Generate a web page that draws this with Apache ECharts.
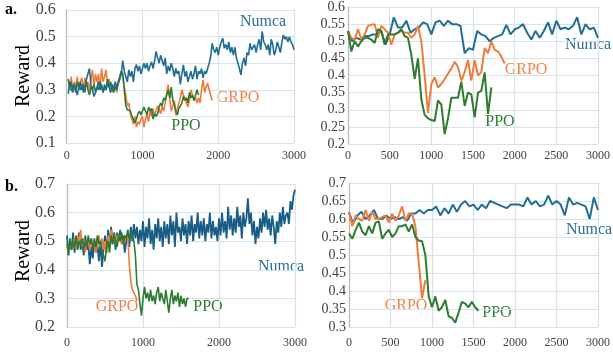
<!DOCTYPE html>
<html>
<head>
<meta charset="utf-8">
<script src="https://cdn.jsdelivr.net/npm/echarts@6/dist/echarts.min.js"></script>
<style>
  html, body { margin: 0; padding: 0; background: #fff; }
  #chart { width: 613px; height: 353px; }
</style>
</head>
<body>
<div id="chart"></div>
<script>
// panel a, left: dense curves, first point at x=20, step 20
const aLeftNumca = [
  .285, .33, .30, .29, .32, .30, .28, .31, .33, .30,
  .32, .29, .34, .36, .38, .32, .30, .275, .29, .31,
  .33, .30, .32, .29, .31, .30, .33, .31, .29, .32,
  .30, .33, .31, .31, .34, .36, .41, .37, .35, .33,
  .375, .35, .37, .33, .38, .395, .37, .39, .36, .38,
  .40, .38, .40, .37, .39, .405, .38, .41, .444, .42,
  .40, .43, .41, .39, .42, .36, .39, .37, .40, .38,
  .35, .38, .36, .37, .32, .36, .394, .35, .37, .33,
  .35, .37, .34, .36, .39, .34, .37, .36, .38, .345,
  .37, .36, .38, .40, .425, .475, .45, .44, .46, .43,
  .46, .48, .494, .456, .47, .45, .48, .44, .46, .43,
  .46, .42, .40, .38, .356, .40, .42, .39, .44, .43,
  .475, .45, .46, .47, .44, .47, .49, .45, .52, .48,
  .47, .45, .47, .43, .49, .47, .43, .45, .48, .46,
  .44, .48, .506, .49, .50, .48, .50, .48, .47, .45,
];
const aLeftGrpo = [
  .34, .30, .35, .29, .33, .31, .35, .30, .33, .345,
  .30, .345, .31, .33, .30, .34, .375, .31, .36, .33,
  .36, .30, .38, .33, .35, .375, .31, .34, .29, .32,
  .30, .33, .29, .32, .34, .37, .35, .31, .28, .24,
  .25, .21, .19, .17, .20, .16, .18, .17, .19, .20,
  .16, .19, .21, .18, .22, .20, .23, .205, .22, .24,
  .235, .21, .24, .22, .25, .29, .32, .27, .22, .24,
  .26, .205, .23, .25, .27, .30, .28, .27, .25, .235,
  .26, .30, .28, .26, .27, .25, .27, .25, .30, .337,
  .29, .31, .325, .30, .28, .26,
];
const aLeftPpo = [
  .34, .31, .33, .30, .32, .29, .33, .31, .30, .32,
  .29, .31, .33, .30, .28, .31, .30, .32, .29, .31,
  .30, .33, .31, .29, .32, .30, .34, .31, .33, .30,
  .29, .31, .30, .33, .35, .37, .36, .30, .24, .225,
  .23, .22, .20, .19, .175, .19, .21, .22, .205, .21,
  .235, .22, .205, .235, .22, .23, .19, .21, .20, .21,
  .235, .25, .24, .27, .26, .28, .30, .27, .31, .26,
  .245, .22, .205, .23, .24, .25, .275, .26, .27, .25,
  .29, .27, .28, .26, .28, .30, .28,
];

// panel a, right: Numca step 50, GRPO / PPO step 40, all from x=0
const aRightNumca = [
  .53, .50, .51, .505, .515, .515, .52, .52, .53, .49,
  .52, .57, .54, .54, .56, .525, .535, .54, .555, .55,
  .52, .555, .56, .545, .56, .55, .55, .545, .465, .48,
  .475, .53, .52, .515, .50, .51, .515, .52, .548, .52,
  .535, .54, .55, .525, .505, .53, .51, .53, .555, .52,
  .56, .535, .54, .535, .545, .57, .52, .55, .535, .54,
  .51,
];
const aRightGrpo = [
  .53, .51, .505, .535, .505, .52, .545, .548, .55, .51,
  .545, .535, .525, .49, .52, .525, .53, .525, .525, .51,
  .52, .545, .50, .40, .29, .375, .395, .365, .375, .39,
  .405, .42, .44, .425, .385, .41, .445, .385, .445, .40,
  .41, .48, .465, .50, .475, .47, .455, .435,
];
const aRightPpo = [
  .53, .47, .50, .485, .50, .51, .51, .505, .495, .535,
  .53, .49, .52, .52, .52, .525, .535, .515, .51, .46,
  .39, .45, .33, .285, .275, .27, .267, .327, .315, .229,
  .275, .335, .335, .335, .382, .311, .35, .345, .278, .35,
  .355, .409, .288, .365,
];

// panel b, left: step 20 from x=0
const bLeftNumca = [
  .52, .45, .50, .47, .53, .46, .51, .48, .53, .47,
  .50, .45, .52, .47, .49, .42, .48, .44, .51, .46,
  .49, .43, .50, .41, .47, .52, .46, .54, .48, .55,
  .49, .52, .47, .53, .50, .54, .49, .52, .46, .50,
  .53, .48, .55, .50, .56, .51, .55, .49, .54, .50,
  .57, .48, .55, .51, .58, .49, .54, .47, .56, .51,
  .58, .50, .55, .48, .57, .51, .56, .49, .59, .52,
  .57, .48, .60, .53, .55, .50, .58, .52, .56, .49,
  .57, .52, .59, .50, .56, .53, .60, .51, .57, .52,
  .58, .50, .56, .53, .60, .51, .57, .52, .55, .50,
  .58, .52, .60, .53, .57, .51, .62, .54, .59, .52,
  .58, .53, .62, .55, .59, .51, .60, .55, .58, .65,
  .56, .60, .52, .57, .49, .55, .51, .58, .53, .60,
  .55, .61, .54, .58, .52, .59, .55, .49, .57, .53,
  .60, .55, .62, .56, .59, .60, .56, .64, .61, .66,
  .68,
];
const bLeftGrpo = [
  .48, .46, .50, .47, .49, .51, .47, .52, .50, .54,
  .48, .51, .46, .49, .50, .47, .51, .48, .50, .46,
  .49, .52, .48, .51, .47, .50, .46, .52, .49, .54,
  .51, .53, .49, .52, .50, .52, .49, .51, .50, .52,
  .51, .42, .36, .33, .32, .31, .29,
];
const bLeftPpo = [
  .49, .46, .51, .47, .50, .48, .52, .47, .50, .49,
  .51, .47, .50, .48, .52, .49, .51, .47, .50, .48,
  .52, .49, .50, .47, .45, .43, .48, .50, .46, .52,
  .49, .53, .50, .48, .52, .50, .53, .49, .52, .51,
  .54, .51, .53, .52, .50, .45, .35, .33, .28, .24,
  .30, .34, .30, .32, .29, .33, .29, .31, .28, .32,
  .34, .29, .32, .30, .28, .33, .29, .25, .30, .33,
  .28, .31, .29, .32, .27, .31, .28, .30, .27, .30,
  .30,
];

// panel b, right: Numca step 50, GRPO / PPO step 40
const bRightNumca = [
  .618, .587, .61, .62, .60, .61, .625, .60, .60, .61,
  .60, .605, .60, .605, .595, .615, .615, .625, .615, .625,
  .625, .635, .61, .63, .615, .64, .62, .64, .65, .635,
  .64, .625, .64, .63, .65, .645, .64, .635, .63, .64,
  .64, .64, .635, .66, .64, .65, .635, .64, .665, .64,
  .65, .64, .61, .66, .64, .645, .64, .635, .60, .66,
  .625,
];
const bRightGrpo = [
  .62, .58, .61, .60, .595, .625, .595, .62, .60, .60,
  .605, .61, .59, .615, .595, .61, .635, .595, .615, .615,
  .58, .48, .38, .43,
];
const bRightPpo = [
  .56, .545, .57, .59, .565, .555, .58, .56, .59, .593,
  .545, .56, .57, .55, .56, .58, .58, .585, .565, .585,
  .55, .54, .538, .50, .385, .355, .385, .345, .355, .375,
  .33, .325, .312, .34, .37, .365, .355, .37, .355, .345,
];

const xTicksLeft = 1000;
const xTicksRight = 500;

const serif = "'Liberation Serif', 'Times New Roman', serif";
const blue = '#226d93';
const orange = '#f07c3b';
const green = '#2e7b30';
const gridColor = '#d7e3eb';

const pairs = (start, step, values) => values.map((v, i) => [start + i * step, v]);

const makeX = (gridIndex, interval, margin) => ({
  type: 'value',
  gridIndex,
  min: 0,
  max: 3000,
  interval,
  axisLine: { show: false },
  axisTick: { show: false },
  splitLine: { show: true, lineStyle: { color: gridColor, width: 1.2 } },
  axisLabel: {
    fontFamily: serif,
    fontSize: 12,
    color: '#404040',
    margin,
    formatter: (v) => String(v),
  },
});

const makeY = (gridIndex, min, max, interval, fontSize, margin) => ({
  type: 'value',
  gridIndex,
  min,
  max,
  interval,
  axisLine: { show: true, lineStyle: { color: '#bcbcbc', width: 1.2 } },
  axisTick: { show: false },
  splitLine: { show: true, lineStyle: { color: gridColor, width: 1.2 } },
  axisLabel: { fontFamily: serif, fontSize, color: '#404040', margin },
});

const makeLine = (idx, data, color, width) => ({
  type: 'line',
  xAxisIndex: idx,
  yAxisIndex: idx,
  data,
  showSymbol: false,
  symbol: 'none',
  lineStyle: { color, width },
  itemStyle: { color },
});

const label = (text, x, y, color) => ({
  type: 'text',
  x,
  y,
  style: {
    text,
    fill: color,
    font: `16px ${serif}`,
    align: 'center',
    verticalAlign: 'middle',
  },
});

const option = {
  animation: false,
  backgroundColor: '#fff',
  grid: [
    { left: 66.7, right: 319, top: 10, bottom: 210 },
    { left: 348, right: 13, top: 7, bottom: 209 },
    { left: 67, right: 318, top: 184, bottom: 26 },
    { left: 349, right: 15, top: 183, bottom: 26 },
  ],
  xAxis: [
    makeX(0, xTicksLeft, 7),
    makeX(1, xTicksRight, 6),
    makeX(2, xTicksLeft, 10),
    makeX(3, xTicksRight, 10),
  ],
  yAxis: [
    makeY(0, 0.1, 0.6, 0.1, 16, 11),
    makeY(1, 0.2, 0.6, 0.05, 14, 3),
    makeY(2, 0.2, 0.7, 0.1, 16, 12),
    makeY(3, 0.3, 0.7, 0.05, 14, 3),
  ],
  series: [
    makeLine(0, pairs(20, 20, aLeftGrpo), orange, 1.6),
    makeLine(0, pairs(20, 20, aLeftPpo), green, 1.6),
    makeLine(0, pairs(20, 20, aLeftNumca), blue, 1.6),
    makeLine(1, pairs(0, 50, aRightNumca), blue, 2),
    makeLine(1, pairs(0, 40, aRightGrpo), orange, 2),
    makeLine(1, pairs(0, 40, aRightPpo), green, 2),
    makeLine(2, pairs(0, 20, bLeftNumca), '#185d86', 1.8),
    makeLine(2, pairs(0, 20, bLeftGrpo), orange, 1.6),
    makeLine(2, pairs(0, 20, bLeftPpo), green, 1.6),
    makeLine(3, pairs(0, 50, bRightNumca), blue, 2),
    makeLine(3, pairs(0, 40, bRightGrpo), orange, 2),
    makeLine(3, pairs(0, 40, bRightPpo), green, 2),
  ],
  graphic: [
    {
      type: 'text', x: 5, y: 10,
      style: { text: 'a.', fill: '#000', font: `bold 16px ${serif}`, verticalAlign: 'middle' },
    },
    {
      type: 'text', x: 5, y: 187,
      style: { text: 'b.', fill: '#000', font: `bold 16px ${serif}`, verticalAlign: 'middle' },
    },
    {
      type: 'text', x: 24, y: 76, rotation: Math.PI / 2,
      style: { text: 'Reward', fill: '#000', font: `20px ${serif}`, align: 'center', verticalAlign: 'middle' },
    },
    {
      type: 'text', x: 24, y: 251, rotation: Math.PI / 2,
      style: { text: 'Reward', fill: '#000', font: `20px ${serif}`, align: 'center', verticalAlign: 'middle' },
    },
    label('Numca', 263, 22, '#2b7099'),
    label('GRPO', 238, 98, '#f0824a'),
    label('PPO', 186, 126, green),
    label('Numca', 588, 45, '#2b7099'),
    label('GRPO', 526, 70, '#f0824a'),
    label('PPO', 500, 122, green),
    label('Numca', 281, 267, '#2b7099'),
    label('GRPO', 117, 307, '#f0824a'),
    label('PPO', 208, 307, green),
    label('Numca', 589, 230, '#2b7099'),
    label('GRPO', 406, 306, '#f0824a'),
    label('PPO', 497, 313, green),
  ],
};

const chart = echarts.init(document.getElementById('chart'));
chart.setOption(option);
</script>
</body>
</html>
